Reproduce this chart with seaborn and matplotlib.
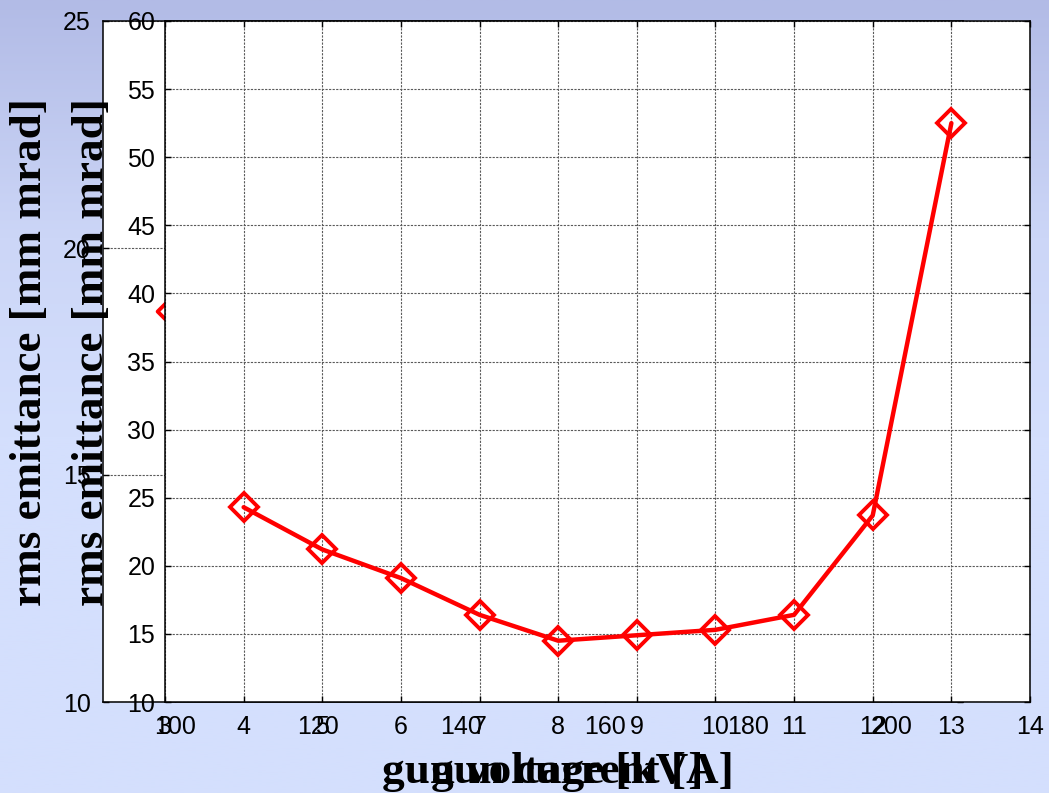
import numpy as np
import matplotlib
matplotlib.use("Agg")
import matplotlib.pyplot as plt
import seaborn as sns
import pandas as pd

# ---------------- data ----------------
current_A = [4, 5, 6, 7, 8, 9, 10, 11, 12, 13]
emittance_current = [24.3, 21.2, 19.1, 16.4, 14.5, 14.9, 15.3, 16.4, 23.7, 52.5]

voltage_kV = [100.0]
emittance_voltage = [18.6]

front_xticks = [3, 4, 5, 6, 7, 8, 9, 10, 11, 12, 13, 14]
front_yticks = [10, 15, 20, 25, 30, 35, 40, 45, 50, 55, 60]
back_xticks = [100, 120, 140, 160, 180, 200]
back_yticks = [10, 15, 20, 25]

ylabel_text = "rms emittance [mm mrad]"
xlabel_front = "gun current [A]"
xlabel_back = "gun voltage [kV]"

# ---------------- style ----------------
sns.set_style("ticks")
plt.rcParams["font.family"] = ["Liberation Sans", "DejaVu Sans"]

W, H = 1049, 793
fig = plt.figure(figsize=(W / 100, H / 100), dpi=100)

# gradient background
bg = fig.add_axes([0, 0, 1, 1], zorder=-10)
yy = np.linspace(0, 1, 400)
top = np.array([178, 187, 230]) / 255
mid = np.array([204, 214, 247]) / 255
bot = np.array([212, 223, 253]) / 255
cols = []
for t in yy:
    if t < 0.3:
        c = top + (mid - top) * (t / 0.3)
    elif t < 0.55:
        c = mid + (bot - mid) * ((t - 0.3) / 0.25)
    else:
        c = bot
    cols.append(c)
grad = np.array(cols)[:, None, :]
bg.imshow(grad, aspect="auto", extent=[0, 1, 0, 1], origin="upper")
bg.set_axis_off()


def px_rect(x0, y0, x1, y1):
    return [x0 / W, 1 - y1 / H, (x1 - x0) / W, (y1 - y0) / H]


grid_kw = dict(color="#5a5a5a", linestyle=(0, (2, 1.2)), linewidth=0.8)


def style_axes(ax):
    ax.set_facecolor("white")
    for s in ax.spines.values():
        s.set_color("black")
        s.set_linewidth(1.1)
        s.set_visible(True)
    ax.tick_params(direction="in", length=4, width=1, top=True, right=True,
                   labelsize=18, colors="black", pad=9)
    ax.grid(True, **grid_kw)
    ax.set_xlabel("")
    ax.set_ylabel("")


# ---------------- back axes (gun voltage) ----------------
axb = fig.add_axes(px_rect(103, 21, 963, 702), zorder=1)
df_b = pd.DataFrame({"v": voltage_kV, "e": emittance_voltage})
sns.scatterplot(data=df_b, x="v", y="e", ax=axb, marker="D", s=300,
                facecolor="none", edgecolor="red", linewidth=2.8)
axb.set_xlim(90, 210)
axb.set_ylim(10, 25)
axb.set_xticks(back_xticks)
axb.set_yticks(back_yticks)
style_axes(axb)

# ---------------- front axes (gun current) ----------------
axf = fig.add_axes(px_rect(165, 21, 1030, 702), zorder=2)
df_f = pd.DataFrame({"I": current_A, "e": emittance_current})
sns.lineplot(data=df_f, x="I", y="e", ax=axf, color="red", linewidth=3.2,
             marker="D", markersize=14, markerfacecolor="none",
             markeredgecolor="red", markeredgewidth=2.8)
axf.set_xlim(3, 14)
axf.set_ylim(10, 60)
axf.set_xticks(front_xticks)
axf.set_yticks(front_yticks)
style_axes(axf)
axf.tick_params(axis="y", pad=7)

# ---------------- labels ----------------
lab_kw = dict(family=["Liberation Serif", "DejaVu Serif"], fontweight="bold",
              fontsize=32.5, color="black")
fig.text(30 / W, 1 - 352 / H, ylabel_text, rotation=90, ha="center",
         va="center", **lab_kw)
fig.text(92 / W, 1 - 352 / H, ylabel_text, rotation=90, ha="center",
         va="center", zorder=3, **lab_kw)
fig.text(543 / W, 1 - 783 / H, xlabel_back, ha="center", va="baseline",
         **lab_kw)
fig.text(582 / W, 1 - 783 / H, xlabel_front, ha="center", va="baseline",
         **lab_kw)

fig.savefig("out.png", dpi=100)
